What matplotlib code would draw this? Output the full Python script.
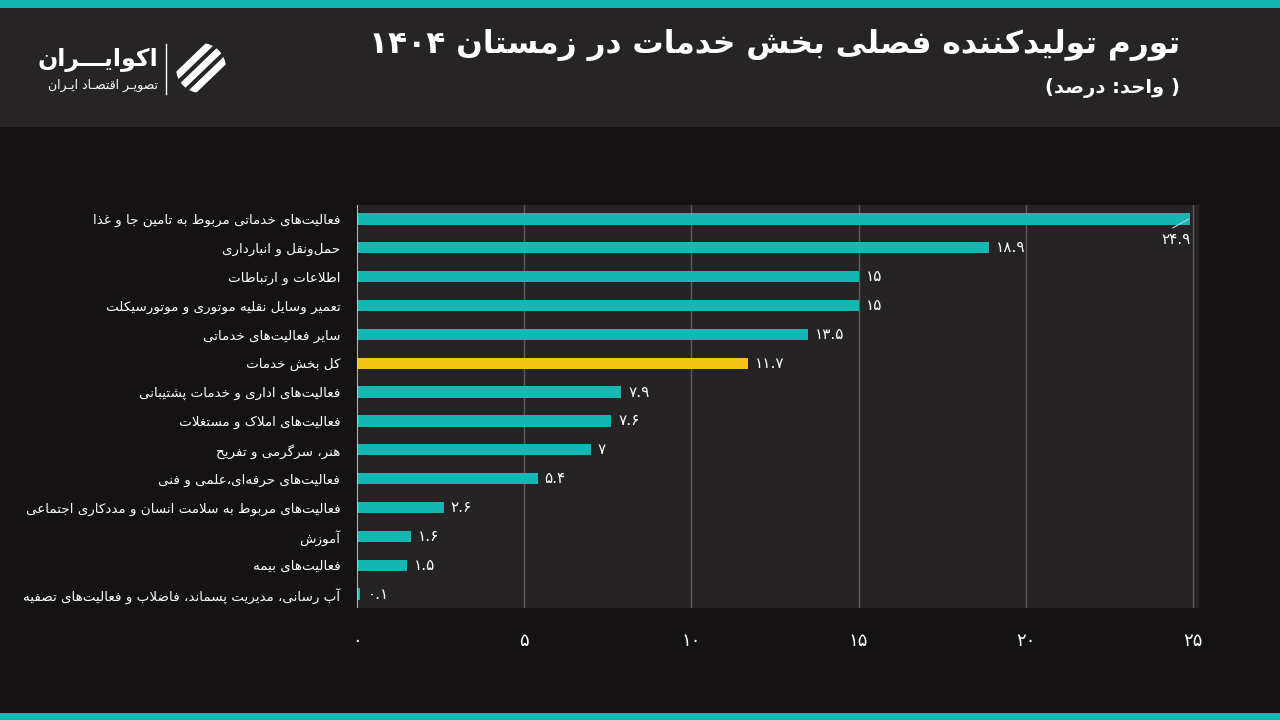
import re
import matplotlib
matplotlib.use("Agg")
import matplotlib.pyplot as plt
from matplotlib.patches import Rectangle, Circle
from matplotlib.lines import Line2D

# ---------------- data ----------------
categories = [
    "فعالیت‌های خدماتی مربوط به تامین جا و غذا",
    "حمل‌ونقل و انبارداری",
    "اطلاعات و ارتباطات",
    "تعمیر وسایل نقلیه موتوری و موتورسیکلت",
    "سایر فعالیت‌های خدماتی",
    "کل بخش خدمات",
    "فعالیت‌های اداری و خدمات پشتیبانی",
    "فعالیت‌های املاک و مستغلات",
    "هنر، سرگرمی و تفریح",
    "فعالیت‌های حرفه‌ای،علمی و فنی",
    "فعالیت‌های مربوط به سلامت انسان و مددکاری اجتماعی",
    "آموزش",
    "فعالیت‌های بیمه",
    "آب رسانی، مدیریت پسماند، فاضلاب و فعالیت‌های تصفیه",
]
values = [24.9, 18.9, 15, 15, 13.5, 11.7, 7.9, 7.6, 7, 5.4, 2.6, 1.6, 1.5, 0.1]
highlight = "کل بخش خدمات"
xticks = [0, 5, 10, 15, 20, 25]
title = "تورم تولیدکننده فصلی بخش خدمات در زمستان ۱۴۰۴"
subtitle = "( واحد: درصد)"
logo_name = "اکوایـــران"
logo_tag = "تصویـر اقتصـاد ایـران"

# ---------------- Arabic/Persian shaping ----------------
_F = {}
_DUAL = set()
for ch, base in [('ئ', 0xFE89), ('ب', 0xFE8F), ('ت', 0xFE95), ('ث', 0xFE99), ('ج', 0xFE9D),
                 ('ح', 0xFEA1), ('خ', 0xFEA5), ('س', 0xFEB1), ('ش', 0xFEB5), ('ص', 0xFEB9),
                 ('ض', 0xFEBD), ('ط', 0xFEC1), ('ظ', 0xFEC5), ('ع', 0xFEC9), ('غ', 0xFECD),
                 ('ف', 0xFED1), ('ق', 0xFED5), ('ك', 0xFED9), ('ل', 0xFEDD), ('م', 0xFEE1),
                 ('ن', 0xFEE5), ('ه', 0xFEE9), ('ي', 0xFEF1), ('پ', 0xFB56), ('چ', 0xFB7A),
                 ('ک', 0xFB8E), ('گ', 0xFB92), ('ی', 0xFBFC)]:
    _F[ch] = tuple(chr(base + k) for k in range(4))
    _DUAL.add(ch)
for ch, base in [('ا', 0xFE8D), ('آ', 0xFE81), ('أ', 0xFE83), ('إ', 0xFE87), ('ؤ', 0xFE85),
                 ('د', 0xFEA9), ('ذ', 0xFEAB), ('ر', 0xFEAD), ('ز', 0xFEAF), ('و', 0xFEED),
                 ('ة', 0xFE93), ('ژ', 0xFB8A)]:
    _F[ch] = (chr(base), chr(base + 1), chr(base), chr(base + 1))
_F['ـ'] = ('ـ',) * 4
_DUAL.add('ـ')
_LAMALEF = {'ا': ('\uFEFB', '\uFEFC'), 'آ': ('\uFEF5', '\uFEF6'),
            'أ': ('\uFEF7', '\uFEF8'), 'إ': ('\uFEF9', '\uFEFA')}


def _shape(s):
    out, i, n = [], 0, len(s)
    while i < n:
        c = s[i]
        if c not in _F:
            out.append(c)
            i += 1
            continue
        jp = i > 0 and s[i - 1] in _DUAL
        if c == 'ل' and i + 1 < n and s[i + 1] in _LAMALEF:
            lig = _LAMALEF[s[i + 1]]
            out.append(lig[1] if jp else lig[0])
            i += 2
            continue
        jn = c in _DUAL and i + 1 < n and s[i + 1] in _F
        iso, fin, ini, med = _F[c]
        out.append(med if (jp and jn) else ini if jn else fin if jp else iso)
        i += 1
    return ''.join(out)


_MIRROR = {'(': ')', ')': '('}


def rtl(s):
    s = _shape(s).replace('\u200c', '')
    tokens = re.findall(r'[0-9۰-۹]+(?:\.[0-9۰-۹]+)*|.', s)
    tokens.reverse()
    return ''.join(_MIRROR.get(t, t) for t in tokens)


def fa(v):
    s = ('%g' % v)
    return s.translate(str.maketrans('0123456789', '۰۱۲۳۴۵۶۷۸۹'))


# ---------------- style ----------------
TEAL = '#15b7b3'
GOLD = '#f4c20f'
BG = '#141213'
PANEL = '#252324'
HEADER = '#262425'
FONT = 'DejaVu Sans'
plt.rcParams['font.family'] = [FONT]

W, H = 1280, 720
fig = plt.figure(figsize=(12.8, 7.2), dpi=100, facecolor=BG)

# decoration layer (pixel coordinates)
deco = fig.add_axes([0, 0, 1, 1], zorder=0)
deco.set_xlim(0, W)
deco.set_ylim(H, 0)
deco.axis('off')
deco.add_patch(Rectangle((0, 0), W, 8, color=TEAL, lw=0))
deco.add_patch(Rectangle((0, 8), W, 119, color=HEADER, lw=0))
deco.add_patch(Rectangle((0, 713), W, 7, color=TEAL, lw=0))

deco.text(1180, 45, rtl(title), ha='right', va='center', color='white',
          fontsize=22.5, fontweight='bold')
deco.text(1180, 88, rtl(subtitle), ha='right', va='center', color='white',
          fontsize=14, fontweight='bold')

# logo
deco.text(158, 60, rtl(logo_name), ha='right', va='center', color='white',
          fontsize=17, fontweight='bold')
deco.text(158, 85, rtl(logo_tag), ha='right', va='center', color='white', fontsize=9)
deco.add_line(Line2D([166, 166], [44, 94], color='white', lw=1))
clip = Circle((201, 68), 25, transform=deco.transData)
for off in (-16, 0, 16):
    ln = Line2D([176 + off, 226 + off], [92, 44], color='white', lw=5,
                solid_capstyle='round')
    deco.add_line(ln)
    ln.set_clip_path(clip)

# main chart
L, R, T, B = 357, 1199, 205, 608
ax = fig.add_axes([L / W, 1 - B / H, (R - L) / W, (B - T) / H], zorder=1)
ax.set_facecolor(PANEL)
ys = list(range(len(categories)))
colors = [GOLD if c == highlight else TEAL for c in categories]
ax.barh(ys, values, height=0.39, color=colors, zorder=3)
ax.set_xlim(0, (R - L) / 33.44)
ax.set_ylim(len(categories) - 0.515, -0.485)

for x in xticks[1:]:
    ax.axvline(x, color='#5e5c5d', lw=1, zorder=1)
ax.axvline(0, color='#d8d8d8', lw=1.2, zorder=4)

ax.set_xticks(xticks)
ax.set_xticklabels([fa(t) for t in xticks], color='white', fontsize=13)
ax.set_yticks(ys)
ax.set_yticklabels([rtl(c) for c in categories], color='white', fontsize=9.7)
ax.tick_params(axis='x', length=0, pad=17)
ax.tick_params(axis='y', length=0, pad=12)
for sp in ax.spines.values():
    sp.set_visible(False)

xmax = max(values)
for y, v in zip(ys, values):
    if v == xmax:
        # small leader line from the bar end, label below it
        ax.annotate('', xy=(v - 0.03, y), xytext=(-11.5, -6.5), textcoords='offset points',
                    arrowprops=dict(arrowstyle='-', color='#a8dcda', lw=0.8,
                                    shrinkA=0, shrinkB=0), zorder=5)
        ax.annotate(fa(v), xy=(v, y), xytext=(-10, -15), textcoords='offset points',
                    ha='center', va='center', color='white', fontsize=11)
    else:
        ax.annotate(fa(v), xy=(v, y), xytext=(5, 0), textcoords='offset points',
                    ha='left', va='center', color='white', fontsize=11)

fig.savefig('out.png', dpi=100, facecolor=BG)
